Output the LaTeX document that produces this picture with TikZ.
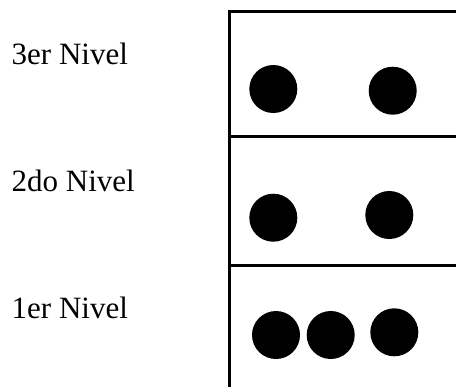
\documentclass[tikz,border=0pt]{standalone}
\usepackage{fontspec}
\setmainfont{Liberation Serif}
\begin{document}
\begin{tikzpicture}[x=1bp,y=-1bp,
  lbl/.style={anchor=base west,inner sep=0pt,font=\fontsize{31bp}{36bp}\selectfont},
  dot/.style={circle,fill=black,inner sep=0pt,minimum size=48bp},
  frame/.style={line width=3bp}]
\useasboundingbox (0,0) rectangle (456,387);
\node[lbl] (l3) at (11.5,64.5) {3er Nivel};
\node[lbl] (l2) at (11.5,191.5) {2do Nivel};
\node[lbl] (l1) at (11.5,318) {1er Nivel};
\draw[frame] (456,11) -- (229,11) -- (229,387);
\draw[frame] (229,136) -- (456,136);
\draw[frame] (229,265) -- (456,265);
\node[dot] (a1) at (273.3,89) {};
\node[dot] (a2) at (392.7,90.7) {};
\node[dot] (b1) at (273.3,217.7) {};
\node[dot] (b2) at (389.3,215) {};
\node[dot] (c1) at (276,335) {};
\node[dot] (c2) at (330.7,335) {};
\node[dot] (c3) at (394.3,332.3) {};
\end{tikzpicture}
\end{document}
